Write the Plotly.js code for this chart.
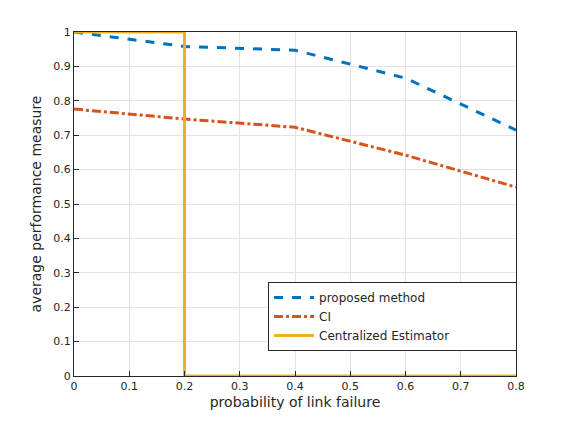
<!DOCTYPE html>
<html>
<head>
<script src="https://cdn.plot.ly/plotly-3.0.1.min.js"></script>
<style>body{margin:0}</style>
</head>
<body>
<div id="graph" style="width:570px;height:422px"></div>
<script>
//DATA
var xs = [0, 0.2, 0.4, 0.6, 0.8];
var proposed = [1.0, 0.958, 0.947, 0.866, 0.715];
var ci = [0.776, 0.747, 0.723, 0.642, 0.549];
var centX = [0, 0.2, 0.2, 0.8];
var centY = [1, 1, 0, 0];

var traces = [
	{x: xs, y: proposed, name: 'proposed method', mode: 'lines', cliponaxis: false,
	 line: {color: '#0072BD', width: 3, dash: 'dash'}},
	{x: xs, y: ci, name: 'CI', mode: 'lines', cliponaxis: false,
	 line: {color: '#D95319', width: 3, dash: 'dashdot'}},
	{x: centX, y: centY, name: 'Centralized Estimator                ', mode: 'lines', cliponaxis: false,
	 line: {color: '#EDB120', width: 3}}
];

var axis = {
	showline: true, mirror: true, linecolor: '#262626', linewidth: 1,
	showgrid: true, gridcolor: '#e3e3e3', zeroline: false,
	ticks: 'inside', ticklen: 5, tickcolor: '#262626',
	tickfont: {size: 11, color: '#262626'}
};

var layout = {
	width: 570, height: 422,
	margin: {l: 74, r: 54, t: 32, b: 46},
	font: {family: 'DejaVu Sans', color: '#262626'},
	paper_bgcolor: 'white', plot_bgcolor: 'white',
	xaxis: Object.assign({}, axis, {range: [0, 0.8], dtick: 0.1,
		title: {text: 'probability of link failure', font: {size: 14}, standoff: 4}}),
	yaxis: Object.assign({}, axis, {range: [0, 1], dtick: 0.1,
		title: {text: 'average performance measure', font: {size: 14}, standoff: 8}}),
	legend: {x: 0.439, y: 0.273, xanchor: 'left', yanchor: 'top',
		bgcolor: 'white', bordercolor: '#262626', borderwidth: 1,
		font: {size: 12}, tracegroupgap: 4, itemwidth: 40},
	showlegend: true
};

Plotly.newPlot('graph', traces, layout, {displayModeBar: false});
</script>
</body>
</html>
